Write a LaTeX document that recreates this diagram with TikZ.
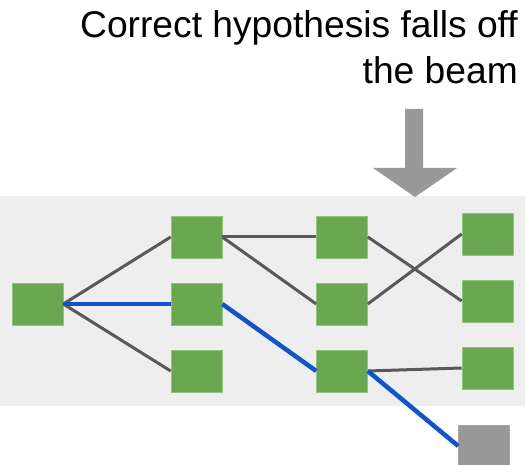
\documentclass[tikz,border=0pt]{standalone}
\usepackage{fontspec}
\setmainfont{Liberation Sans}
\begin{document}
\definecolor{bandgray}{HTML}{EEEEEE}
\definecolor{boxgreen}{HTML}{6AA84F}
\definecolor{boxedge}{HTML}{93C47D}
\definecolor{edgegray}{HTML}{595959}
\definecolor{pathblue}{HTML}{1155CC}
\definecolor{dropgray}{HTML}{999999}
\begin{tikzpicture}[x=1pt,y=-1pt,
  hyp/.style={rectangle,minimum width=51pt,minimum height=42pt,inner sep=0pt,
    fill=boxgreen,draw=boxedge,line width=0.6pt},
  dropped/.style={hyp,fill=dropgray,draw=dropgray!85!white},
  link/.style={draw=edgegray,line width=3pt},
  best/.style={draw=pathblue,line width=4.5pt},
  caption/.style={anchor=north east,inner sep=0pt,align=right,
    font=\fontsize{37.2}{46}\selectfont}]
\useasboundingbox (0,0) rectangle (525,465);
% beam band
\fill[bandgray] (0,196) rectangle (525,406);
% caption and pointer
\node[caption] (cap) at (518,10) {Correct hypothesis falls off\\the beam};
\fill[dropgray] (405,109) -- (423,109) -- (423,168) -- (457,168) -- (415,197)
  -- (373,168) -- (405,168) -- cycle;
% hypotheses
\node[hyp] (a)  at (37.5,304) {};
\node[hyp] (b1) at (196.5,237) {};
\node[hyp] (b2) at (196.5,304) {};
\node[hyp] (b3) at (196.5,371) {};
\node[hyp] (c1) at (342,237) {};
\node[hyp] (c2) at (342,304) {};
\node[hyp] (c3) at (342,371) {};
\node[hyp] (d1) at (487.5,234) {};
\node[hyp] (d2) at (487.5,301) {};
\node[hyp] (d3) at (487.5,368) {};
\node[dropped] (e) at (484,446) {};
% expansions
\draw[link] (a.east) -- (b1.west);
\draw[link] (a.east) -- (b3.west);
\draw[link] (b1.east) -- (c1.west);
\draw[link] (b1.east) -- (c2.west);
\draw[link] (c1.east) -- (d2.west);
\draw[link] (c2.east) -- (d1.west);
\draw[link] (c3.east) -- (d3.west);
% correct path
\draw[best] (a.east) -- (b2.west);
\draw[best] (b2.east) -- (c3.west);
\draw[best] (c3.east) -- (e.west);
\end{tikzpicture}
\end{document}
